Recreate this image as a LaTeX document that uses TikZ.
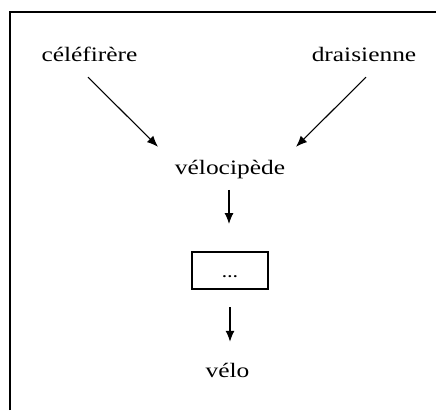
\documentclass[tikz,border=0pt]{standalone}
\usepackage{fontspec}
\setmainfont[FakeStretch=1.24]{Liberation Serif}
\usetikzlibrary{arrows.meta}
\begin{document}
\begin{tikzpicture}[x=1pt,y=-1pt,
  lbl/.style={inner sep=0pt, outer sep=0pt, anchor=base, font=\fontsize{20.5}{24}\selectfont},
  arr/.style={-{Latex[length=11pt,width=9pt]}, line width=1.1pt},
  stepbox/.style={draw, line width=1.3pt, minimum width=76pt, minimum height=37pt,
    inner sep=0pt, outer sep=0pt, text height=14pt, text depth=0pt, font=\fontsize{13}{15}\selectfont\bfseries}]
\useasboundingbox (0,0) rectangle (436,410);
\coordinate (fb) at (10,410);
\coordinate (fc) at (10,12);
\coordinate (fr) at (436,12);
\draw[line width=2.5pt] (fb) -- (fc) -- (fr);
\node[lbl] (c) at (89.5,61) {céléfirère};
\node[lbl] (d) at (364,61) {draisienne};
\node[lbl] (v) at (230,174) {vélocipède};
\node[stepbox] (b) at (230,270.5) {…};
\node[lbl] (w) at (227.5,377) {vélo};
\draw[arr] ([shift={(-1.5,16)}]c.south) -- ([shift={(-17,-13)}]v.north west);
\draw[arr] ([shift={(2,16)}]d.south) -- ([shift={(11,-13)}]v.north east);
\draw[arr] ([shift={(-1,11.5)}]v.south) -- ([shift={(-1,-28)}]b.north);
\draw[arr] ([shift={(0,18)}]b.south) -- ([shift={(2.5,-21)}]w.north);
\end{tikzpicture}
\end{document}
